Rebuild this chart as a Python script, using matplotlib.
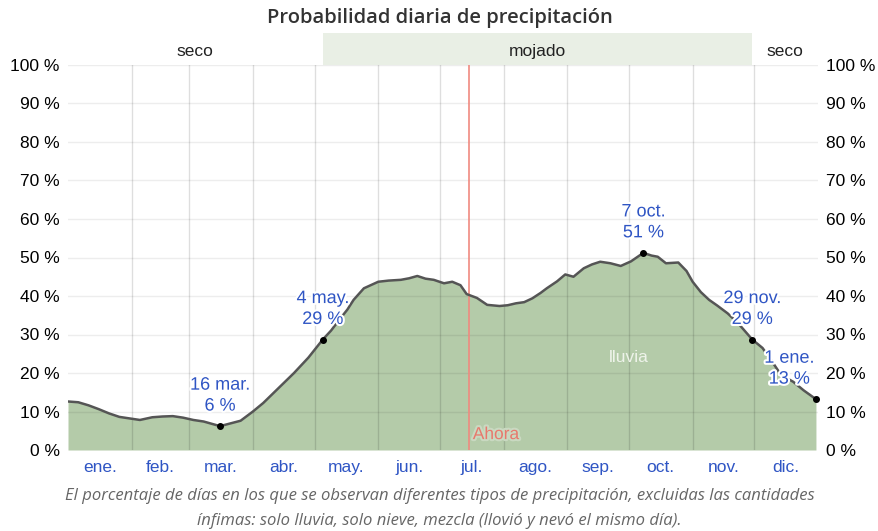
import matplotlib
matplotlib.use('Agg')
import matplotlib.pyplot as plt
import matplotlib.patheffects as pe

# día del año (0 = 1 ene.) y probabilidad diaria de precipitación (%)
dias = [0, 5, 10, 15, 20, 25, 30, 35, 41, 46, 51, 56, 61, 66, 70, 74, 79, 84,
        90, 95, 100, 105, 110, 117, 124, 128, 132, 136, 139, 144, 151, 156, 162,
        166, 170, 174, 178, 183, 187, 191, 194, 199, 204, 210, 214, 218, 222, 226,
        230, 233, 238, 242, 246, 251, 255, 259, 264, 269, 274, 280, 284, 287, 291,
        297, 301, 304, 308, 312, 316, 321, 326, 333, 338, 342, 346, 350, 353, 358,
        364]
lluvia = [12.6, 12.4, 11.6, 10.6, 9.5, 8.6, 8.2, 7.8, 8.5, 8.7, 8.8, 8.4, 7.8,
          7.4, 6.8, 6.2, 6.9, 7.6, 10.0, 12.2, 14.8, 17.4, 20.0, 24.0, 28.7,
          31.0, 33.8, 36.5, 39.0, 42.0, 43.7, 44.0, 44.2, 44.6, 45.2, 44.5, 44.2,
          43.3, 43.7, 42.8, 40.5, 39.5, 37.7, 37.4, 37.6, 38.1, 38.4, 39.4, 40.8,
          42.0, 43.8, 45.6, 45.0, 47.2, 48.2, 48.9, 48.5, 47.8, 49.0, 51.2, 50.5,
          50.2, 48.5, 48.7, 46.5, 43.7, 41.0, 39.0, 37.5, 35.5, 33.0, 28.7, 26.5,
          23.5, 20.3, 18.6, 17.7, 15.5, 13.2]

meses = ['ene.', 'feb.', 'mar.', 'abr.', 'may.', 'jun.', 'jul.', 'ago.',
         'sep.', 'oct.', 'nov.', 'dic.']
inicio_mes = [0, 31, 59, 90, 120, 151, 181, 212, 243, 273, 304, 334, 365]

# anotaciones: día, valor, texto
notas = [(74, 6.2, '16 mar.\n6 %'), (124, 28.7, '4 may.\n29 %'),
         (280, 51.2, '7 oct.\n51 %'), (333, 28.7, '29 nov.\n29 %'),
         (364, 13.2, '1 ene.\n13 %')]

temporada = [(0, 124, 'seco'), (124, 333, 'mojado'), (333, 365, 'seco')]
ahora = 195

azul = '#2f55c4'
W, H = 879, 531
fig = plt.figure(figsize=(W / 100, H / 100), dpi=100)
ax = fig.add_axes([68 / W, 1 - 450 / H, 750 / W, 385 / H])

ax.fill_between(dias, lluvia, 0, color='#b4cba9', lw=0, zorder=1)
ax.plot(dias, lluvia, color='#555555', lw=1.8, zorder=4)

for y in range(10, 101, 10):
    ax.axhline(y, color='black', alpha=0.07, lw=1, zorder=2)
for d in inicio_mes[1:-1]:
    ax.axvline(d, color='black', alpha=0.13, lw=1, zorder=2)

ax.axvline(ahora, color='#f08a80', lw=1.2, zorder=3)
ax.text(ahora + 2, 4, 'Ahora', color='#e8786c', fontsize=12.5,
        family='Liberation Sans', ha='left', va='center', zorder=5,
        path_effects=[pe.withStroke(linewidth=3, foreground='#c9d9c1')])

halo = [pe.withStroke(linewidth=3, foreground='white')]
for d, v, t in notas:
    ax.plot(d, v, 'o', color='black', ms=4, zorder=6, clip_on=False)
    xt = d if d < 360 else d - 13
    ax.text(xt, v + 3, t, color=azul, fontsize=13, family='Liberation Sans',
            ha='center', va='bottom', linespacing=1.3, zorder=6,
            path_effects=halo)

ax.text(273, 24, 'lluvia', color='#eef3ea', fontsize=12.5,
        family='Liberation Sans', ha='center', va='center', zorder=5)

ax.set_xlim(0, 365)
ax.set_ylim(0, 100)
ax.set_yticks(range(0, 101, 10))
ax.set_yticklabels([f'{v} %' for v in range(0, 101, 10)])
ax.tick_params(axis='y', length=0, labelsize=12.5, pad=6,
               labelright=True, right=False)
for lab in ax.get_yticklabels():
    lab.set_family('Liberation Sans')
mid = [(inicio_mes[i] + inicio_mes[i + 1]) / 2 for i in range(12)]
ax.set_xticks(mid)
ax.set_xticklabels(meses, color=azul, family='Liberation Sans', fontsize=12.5)
ax.tick_params(axis='x', length=0, pad=7)
for s in ax.spines.values():
    s.set_visible(False)

# banda de temporadas
band = fig.add_axes([68 / W, 1 - 65 / H, 750 / W, 32 / H])
band.set_xlim(0, 365)
band.set_ylim(0, 1)
band.axis('off')
for a, b, t in temporada:
    if t == 'mojado':
        band.axvspan(a, b, color='#e9efe5', lw=0)
    band.text((a + b) / 2, 0.42, t, ha='center', va='center', fontsize=12.5,
              family='Liberation Sans', color='#222222')

fig.text(0.5, 1 - 18 / H, 'Probabilidad diaria de precipitación',
         ha='center', va='center', fontsize=14.5, family='Open Sans',
         weight='semibold', color='#333333')
fig.text(0.5, 1 - 496 / H,
         'El porcentaje de días en los que se observan diferentes tipos de '
         'precipitación, excluidas las cantidades',
         ha='center', va='center', fontsize=12, family='Open Sans',
         style='italic', color='#666666')
fig.text(0.5, 1 - 521 / H,
         'ínfimas: solo lluvia, solo nieve, mezcla (llovió y nevó el mismo día).',
         ha='center', va='center', fontsize=12, family='Open Sans',
         style='italic', color='#666666')

fig.savefig('out.png', dpi=100)
